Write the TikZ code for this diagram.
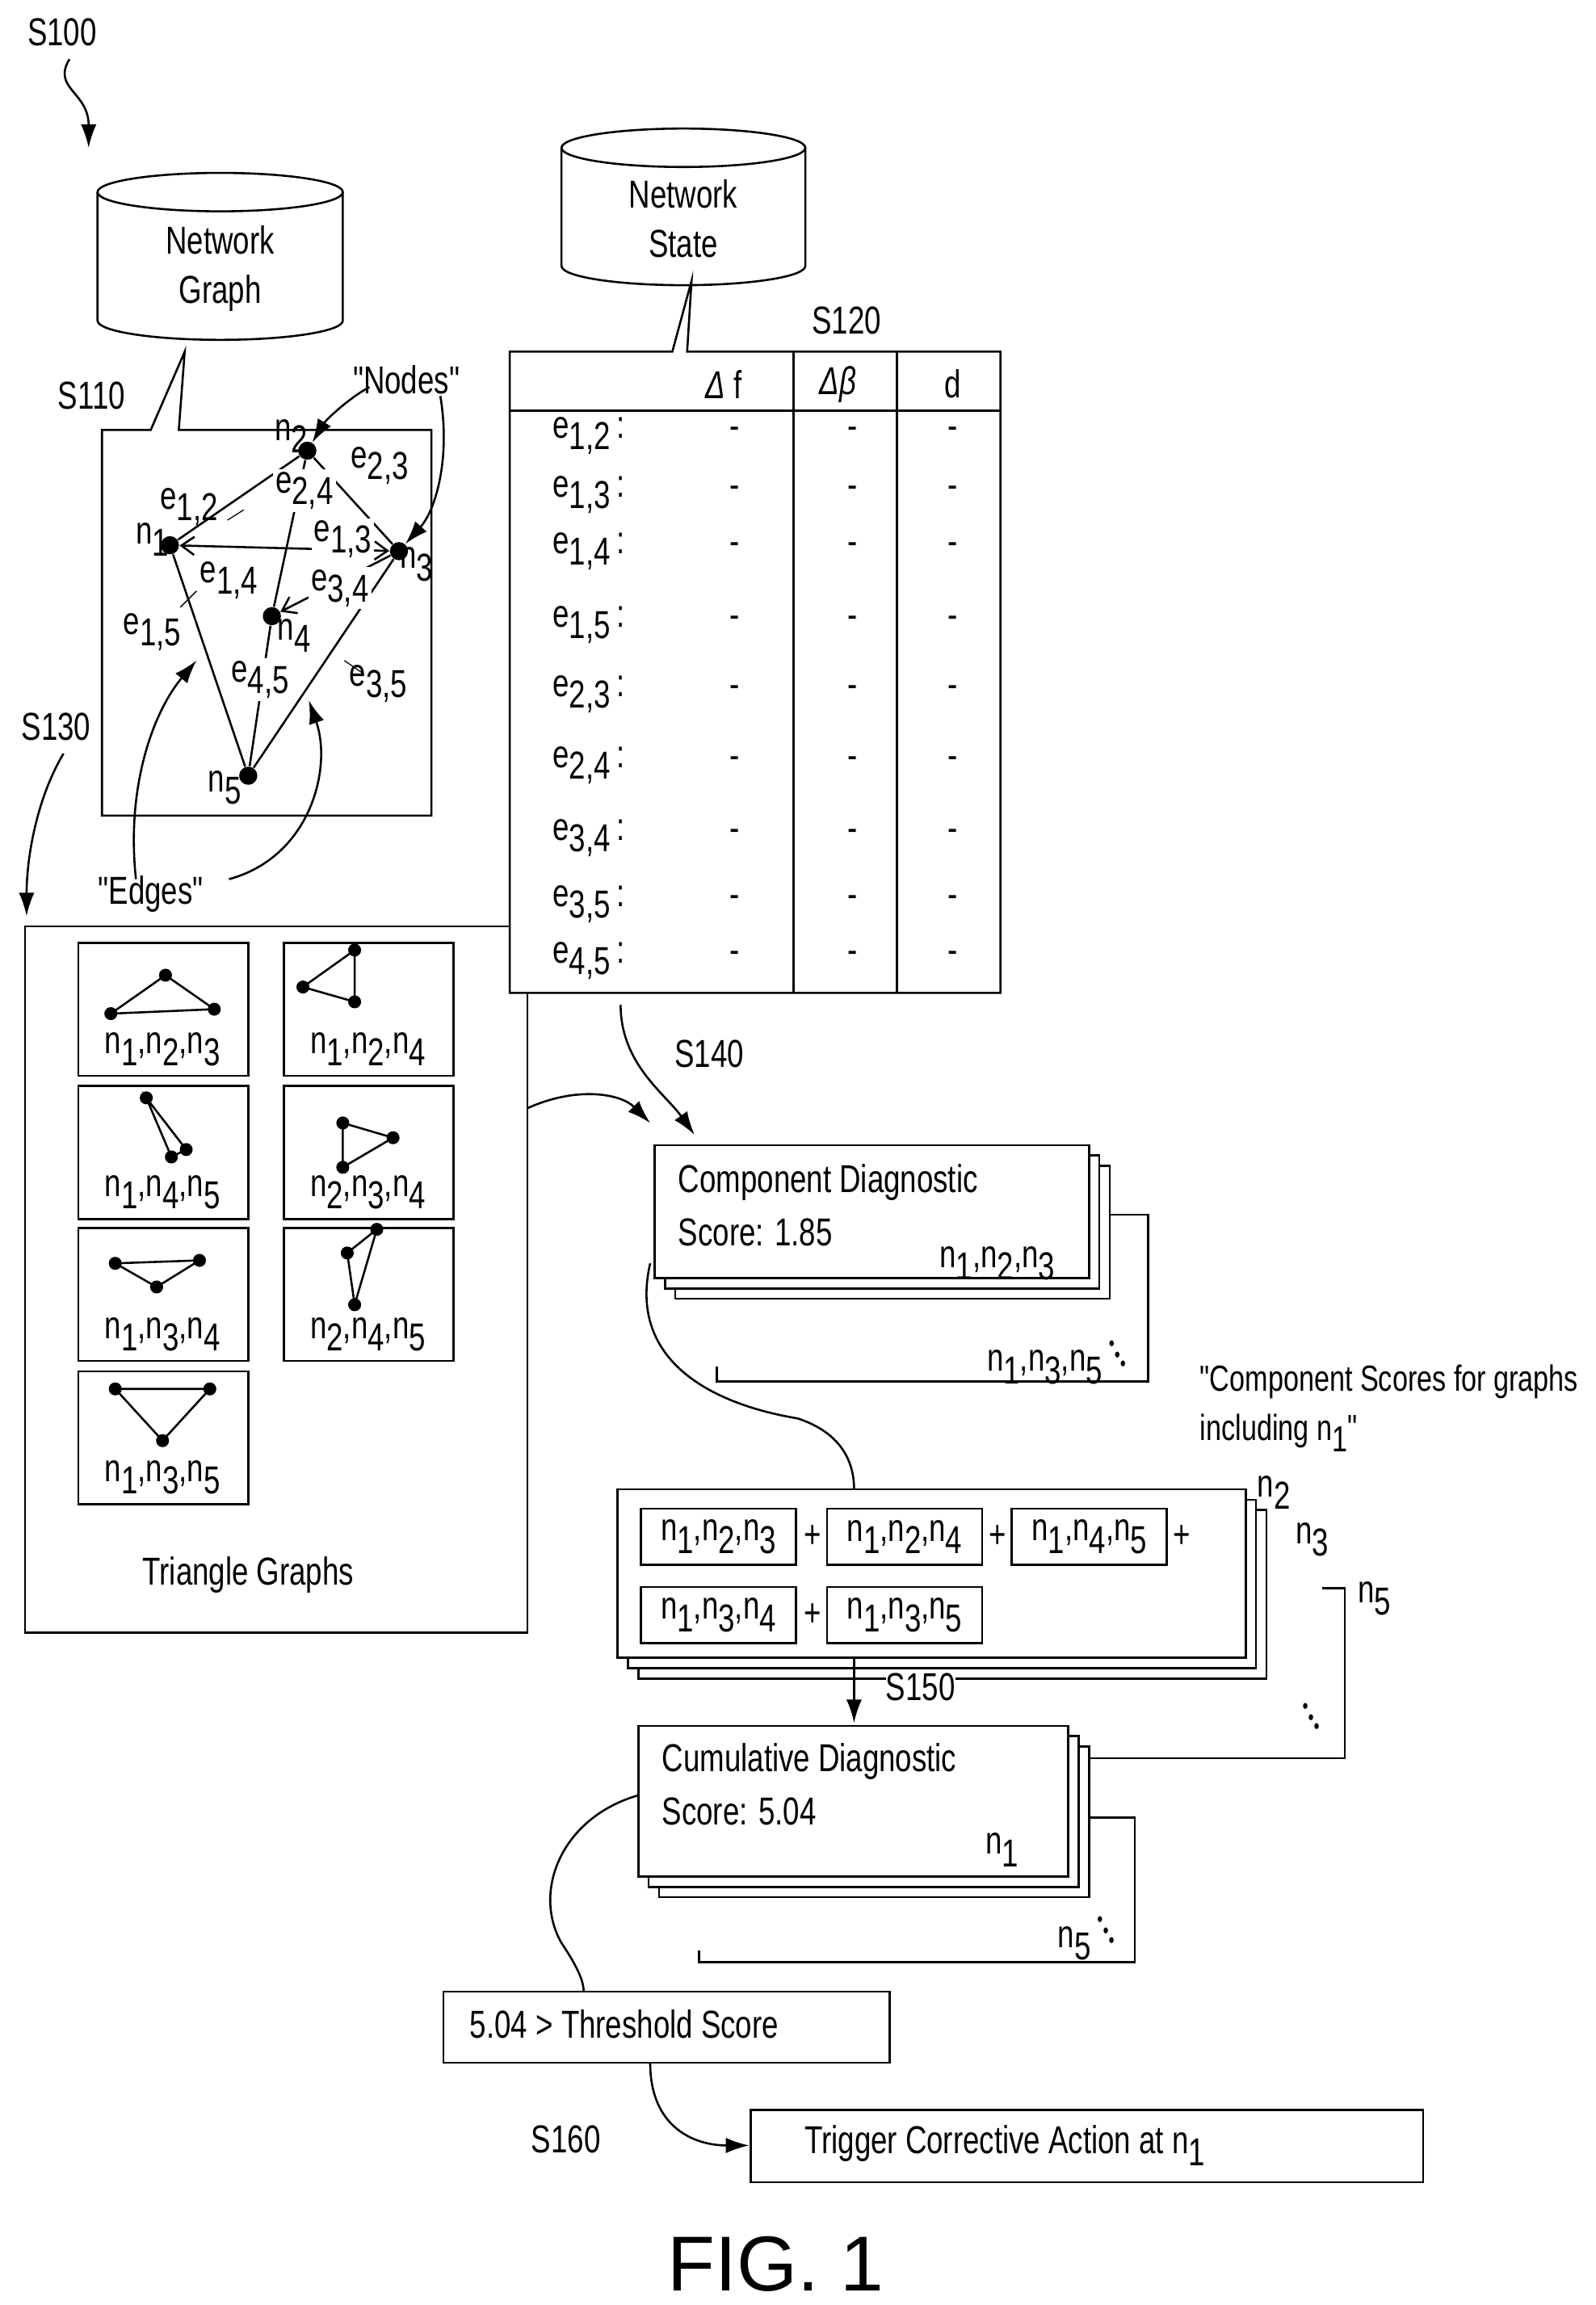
\documentclass[tikz,border=0pt]{standalone}
\usepackage{fontspec}
\setmainfont{Liberation Sans}[FakeStretch=0.76,Ligatures=TeXOff]
\newfontfamily\figfont{Liberation Sans}
\usetikzlibrary{arrows.meta}
\newcommand\lsub[2]{#1\raisebox{-0.55ex}{#2}}
\newcommand\nnn[3]{n\raisebox{-0.6ex}{#1},n\raisebox{-0.6ex}{#2},n\raisebox{-0.6ex}{#3}}
\newcommand\dotsdown{\,\raisebox{1ex}{\scalebox{0.55}{\textbullet}}\raisebox{0.45ex}{\scalebox{0.55}{\textbullet}}\scalebox{0.55}{\textbullet}}
\newcommand\dbcyl[5]{% x1 x2 ytop ybot text
  \draw[thick,fill=white] (#1,#3) -- (#1,#4) arc[start angle=180,end angle=0,x radius={(#2-#1)/2},y radius=13] -- (#2,#3);
  \draw[thick] ({(#1+#2)/2},#3) ellipse[x radius={(#2-#1)/2},y radius=13];
  \node[txt,align=center] at ({(#1+#2)/2},{(#3+#4)/2+8}) {#5};}
\newcommand\stackbox[5]{% name x1 y1 x2 y2
  \foreach \o in {14,7} \draw[thick,fill=white] (#2+\o,#3+\o) rectangle (#4+\o,#5+\o);
  \draw[thick,fill=white] (#2,#3) rectangle (#4,#5);
  \coordinate (#1) at (#2,#3);}
\begin{document}
\begin{tikzpicture}[x=0.02cm,y=-0.02cm,
  txt/.style={font=\fontsize{15}{19}\selectfont,inner sep=1pt},
  lbl/.style={font=\fontsize{15}{17}\selectfont,inner sep=1pt,fill=white},
  dot/.style={circle,fill,inner sep=0pt,minimum size=7pt},
  edge/.style={thick},
  barb/.style={thick,-{Straight Barb[length=5pt,width=7pt]}},
  arr/.style={thick,-{Latex[length=9pt,width=6pt]}},
  tri/.style={thick},
  tdot/.style={circle,fill,inner sep=0pt,minimum size=5pt},
  item/.style={draw,thick,font=\fontsize{15}{17}\selectfont,minimum height=0.76cm,minimum width=2.1cm,inner sep=2pt,anchor=west}]
\useasboundingbox (0,0) rectangle (1080,1560);
% top labels
\node[txt] (s100) at (42,22) {S100};
\draw[arr] (47,40) .. controls (35,60) and (60,62) .. (60,100);
\dbcyl{66}{232}{130}{217}{Network\\Graph}
\dbcyl{380}{545}{100}{180}{Network\\State}
% graph callout
\draw[thick,fill=white] (69,291) -- (102,291) -- (125,238) -- (121,291) -- (292,291) -- (292,552) -- (69,552) -- cycle;
\node[txt] (s110) at (62,268) {S110};
\node[dot] (n1) at (115,369) {};
\node[dot] (n2) at (208,305) {};
\node[dot] (n3) at (270,373) {};
\node[dot] (n4) at (184,417) {};
\node[dot] (n5) at (168,525) {};
\draw[edge] (n1) -- (n2) (n2) -- (n3) (n1) -- (n5) (n2) -- (n4) (n4) -- (n5) (n3) -- (n5);
\draw[thick,{Straight Barb[length=5pt,width=7pt]}-{Straight Barb[length=5pt,width=7pt]}] (n1) -- (n3);
\draw[barb] (n3) -- (n4);
\node[lbl,fill=none] at (103,365) {n\raisebox{-0.6ex}{1}};
\node[lbl,fill=none] at (197,295) {n\raisebox{-0.6ex}{2}};
\node[lbl,fill=none] at (282,382) {n\raisebox{-0.6ex}{3}};
\node[lbl,fill=none] at (199,430) {n\raisebox{-0.6ex}{4}};
\node[lbl,fill=none] at (152,533) {n\raisebox{-0.6ex}{5}};
\node[lbl,fill=none] at (128,343) {\lsub{e}{1,2}};
\draw (154,352) -- (165,345);
\node[lbl] at (206,332) {\lsub{e}{2,4}};
\node[lbl,fill=none] at (257,315) {\lsub{e}{2,3}};
\node[lbl] at (232,365) {\lsub{e}{1,3}};
\node[lbl,fill=none] at (155,393) {\lsub{e}{1,4}};
\node[lbl] at (230,398) {\lsub{e}{3,4}};
\node[lbl,fill=none] at (103,428) {\lsub{e}{1,5}};
\draw (122,411) -- (133,400);
\node[lbl] at (176,460) {\lsub{e}{4,5}};
\node[lbl,fill=none] at (256,463) {\lsub{e}{3,5}};
\draw (233,447) -- (246,456);
\node[txt] (nodes) at (275,257) {"Nodes"};
\draw[arr] (250,262) .. controls (235,270) and (220,285) .. (n2);
\draw[arr] (298,268) .. controls (305,310) and (295,345) .. (n3);
\node[txt] (edges) at (102,605) {"Edges"};
\draw[arr] (92,595) .. controls (85,530) and (105,480) .. (133,447);
\draw[arr] (155,595) .. controls (210,580) and (225,520) .. (209,474);
\node[txt] (s130) at (38,492) {S130};
\draw[arr] (43,510) .. controls (25,540) and (18,580) .. (18,620);
% triangle graphs
\draw[thick] (17,627) coordinate (trig) rectangle (357,1105);
\node[txt] at (168,1066) {Triangle Graphs};
\foreach \nm/\x/\y/\i/\j/\k in {a/53/638/1/2/3,b/192/638/1/2/4,c/53/735/1/4/5,d/192/735/2/3/4,e/53/831/1/3/4,f/192/831/2/4/5,g/53/928/1/3/5}{
  \draw[thick] (\x,\y) coordinate (tb\nm) rectangle (\x+115,\y+90);
  \node[txt,font=\fontsize{15}{17}\selectfont] at (\x+57,\y+72) {\nnn{\i}{\j}{\k}};
}
\foreach \p/\q/\r in {{75,686}/{112,660}/{145,683},{205,668}/{240,643}/{240,678},{99,743}/{126,778}/{116,783},{232,760}/{266,770}/{232,790},{78,855}/{135,853}/{106,871},{235,848}/{255,832}/{240,883},{78,940}/{142,940}/{110,975}}{
  \draw[tri] (\p) -- (\q) -- (\r) -- cycle;
  \foreach \c in {\p,\q,\r} \node[tdot] at (\c) {};
}
% network state table
\draw[thick,fill=white] (345,238) -- (455,238) -- (468,190) -- (465,238) -- (677,238) -- (677,672) -- (345,672) -- cycle;
\draw[thick] (345,278) -- (677,278) (537,238) -- (537,672) (607,238) -- (607,672);
\node[txt] (s120) at (573,217) {S120};
\node[txt] at (490,260) {\textit{Δ} f};
\node[txt] at (567,260) {\textit{Δβ}};
\node[txt] at (645,260) {d};
\foreach \e/\y in {{1,2}/295,{1,3}/335,{1,4}/373,{1,5}/423,{2,3}/470,{2,4}/518,{3,4}/567,{3,5}/612,{4,5}/650}{
  \node[txt,anchor=west] at (372,\y) {\lsub{e}{\e}\,:};
  \foreach \x in {497,577,645} \node[txt] at (\x,\y-2) {-};
}
\node[txt] (s140) at (480,713) {S140};
\draw[arr] (420,680) .. controls (420,720) and (450,740) .. (470,768);
\draw[arr] (357,750) .. controls (390,735) and (420,740) .. (440,760);
% component diagnostic
\stackbox{comp}{443}{775}{737}{865}
\node[txt,anchor=west] at (457,800) {Component Diagnostic};
\node[txt,anchor=west] at (457,834) {Score: 1.85};
\node[txt] at (675,855) {\nnn{1}{2}{3}};
\draw[thick] (751,822) -- (777,822) -- (777,935) -- (485,935) -- (485,925);
\node[txt] at (715,922) {\nnn{1}{3}{5}\dotsdown};
\node[txt,anchor=west,align=left,font=\fontsize{14}{19}\selectfont] at (810,953) {"Component Scores for graphs\\including n\raisebox{-0.6ex}{1}"};
\draw[thick] (440,855) .. controls (425,920) and (480,950) .. (540,960) .. controls (570,970) and (578,990) .. (578,1008);
% sum box
\stackbox{sum}{418}{1008}{843}{1122}
\node[item] (c1) at (433,1040) {\nnn{1}{2}{3}};
\node[txt] at (550,1040) {+};
\node[item] (c2) at (559,1040) {\nnn{1}{2}{4}};
\node[txt] at (675,1040) {+};
\node[item] (c3) at (684,1040) {\nnn{1}{4}{5}};
\node[txt] at (800,1040) {+};
\node[item] (c4) at (433,1093) {\nnn{1}{3}{4}};
\node[txt] at (550,1093) {+};
\node[item] (c5) at (559,1093) {\nnn{1}{3}{5}};
\node[txt] at (862,1010) {n\raisebox{-0.6ex}{2}};
\node[txt] at (888,1042) {n\raisebox{-0.6ex}{3}};
\node[txt] at (930,1082) {n\raisebox{-0.6ex}{5}};
\draw[thick] (895,1075) -- (910,1075) -- (910,1190) -- (737,1190);
\node[txt] at (885,1163) {\dotsdown};
\node[txt,fill=white,inner sep=0pt] (s150) at (623,1142) {S150};
\draw[arr] (578,1122) -- (578,1166);
% cumulative
\stackbox{cum}{432}{1168}{723}{1270}
\node[txt,anchor=west] at (446,1192) {Cumulative Diagnostic};
\node[txt,anchor=west] at (446,1226) {Score: 5.04};
\node[txt] at (678,1252) {n\raisebox{-0.6ex}{1}};
\draw[thick] (737,1230) -- (768,1230) -- (768,1328) -- (473,1328) -- (473,1320);
\node[txt] at (735,1312) {n\raisebox{-0.6ex}{5}\dotsdown};
\draw[thick] (432,1215) .. controls (380,1230) and (360,1280) .. (380,1315) .. controls (390,1330) and (395,1340) .. (395,1348);
% threshold & action
\draw[thick] (300,1348) coordinate (thr) rectangle (602,1396);
\node[txt,anchor=west] at (316,1370) {5.04 > Threshold Score};
\node[txt] (s160) at (383,1448) {S160};
\draw[thick] (508,1428) coordinate (act) rectangle (963,1477);
\node[txt] at (680,1452) {Trigger Corrective Action at n\raisebox{-0.6ex}{1}};
\draw[arr] (440,1396) .. controls (440,1440) and (470,1452) .. (507,1452);
\node[font=\figfont\fontsize{30}{36}\selectfont] at (525,1532) {FIG. 1};
\end{tikzpicture}
\end{document}
